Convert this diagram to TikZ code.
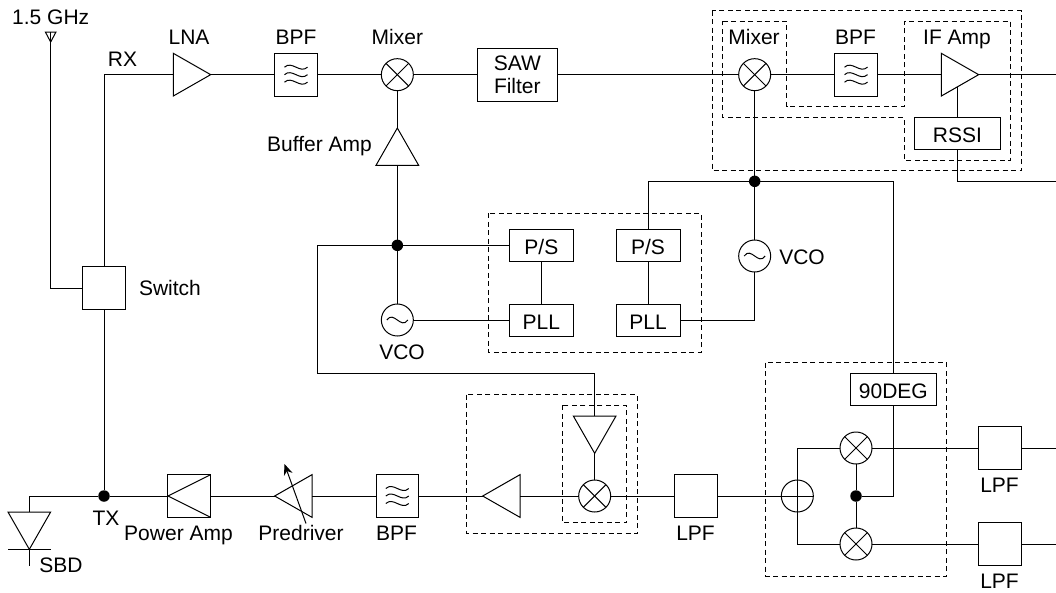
\documentclass[tikz,border=0pt]{standalone}
\usepackage{fontspec}
\setmainfont{Liberation Sans}
\usetikzlibrary{arrows.meta, shapes.geometric}
\tikzset{
  lbl/.style={inner sep=0pt, outer sep=0pt, anchor=base},
  sqbox/.style={draw, rectangle, inner sep=0pt, outer sep=0pt, minimum width=42.67, minimum height=42.67},
  widebox/.style={sqbox, minimum width=64, minimum height=32, text height=18.5, text depth=0pt},
  bpfbox/.style={sqbox, path picture={
      \foreach \dy in {-7.5,0,7.5} {
        \draw[shift={(path picture bounding box.center)}] (-11.5,\dy) .. controls (-4,\dy-7) and (4,\dy+7) .. (11.5,\dy);
      }}},
  mixnode/.style={draw, circle, inner sep=0pt, outer sep=0pt, minimum size=32, path picture={
      \draw (path picture bounding box.north west) -- (path picture bounding box.south east);
      \draw (path picture bounding box.north east) -- (path picture bounding box.south west);}},
  sumnode/.style={draw, circle, inner sep=0pt, outer sep=0pt, minimum size=32, path picture={
      \draw (path picture bounding box.north) -- (path picture bounding box.south);
      \draw (path picture bounding box.west) -- (path picture bounding box.east);}},
  osc/.style={draw, circle, inner sep=0pt, outer sep=0pt, minimum size=32, path picture={
      \draw[shift={(path picture bounding box.center)}] (-10.5,0) .. controls (-3.5,-10) and (3.5,10) .. (10.5,0);}},
  ampnode/.style={draw, isosceles triangle, isosceles triangle stretches, inner sep=0pt, outer sep=0pt, minimum width=42.67, minimum height=37.33, anchor=apex},
  junc/.style={fill=black, circle, inner sep=0pt, outer sep=0pt, minimum size=11.5},
  dashbox/.style={dash pattern=on 5pt off 3.5pt, line width=0.9pt}
}
\begin{document}
\begin{tikzpicture}[x=1pt, y=-1pt, line width=1pt, font=\fontsize{21}{24}\selectfont]
  \useasboundingbox (0,0) rectangle (1056,592);
  % Antena y conmutador
  \node[sqbox] (switch) at (104,288) {};
  \coordinate (ant) at (50.67,32);
  \coordinate (anttip) at (50.67,42);
  \draw (ant) ++(-5.3,0) -- ++(10.6,0) -- (anttip) -- cycle;
  \draw (ant) |- (switch.west);
  \node[lbl] (lblant) at (50.67,24) {1.5 GHz};
  \node[lbl] (lblrx) at (122.5,66) {RX};
  \node[lbl] (lblswitch) at (170,295.7) {Switch};

  % Cadena de recepcion
  \node[ampnode, shape border rotate=0] (lna) at (210.67,74.67) {};
  \node[bpfbox] (bpfa) at (296,74.67) {};
  \node[mixnode] (mixa) at (397.33,74.67) {};
  \node[sqbox, minimum width=80, minimum height=53.33, align=center] (saw) at (517.33,74.67) {SAW\\[-1pt]Filter};
  \node[mixnode] (mixb) at (754.67,74.67) {};
  \node[bpfbox] (bpfb) at (856,74.67) {};
  \node[ampnode, shape border rotate=0] (ifamp) at (978.67,74.67) {};
  \node[widebox, minimum width=85.33] (rssi) at (957.33,133.33) {RSSI};
  \coordinate (ifout) at (1056,74.67);
  \coordinate (rssiout) at (1056,181.33);
  \coordinate (iftap) at (957.33,87);
  \foreach \name/\x/\txt in {lbllna/189/LNA, lblbpfa/296/BPF, lblmixa/397.33/Mixer, lblmixb/754/Mixer, lblbpfb/855.5/BPF, lblifamp/957/IF Amp} {
    \node[lbl] (\name) at (\x,44.5) {\txt};
  }
  \draw (switch.north) |- (lna.lower side);
  \draw (lna.apex) -- (bpfa.west);
  \draw (bpfa.east) -- (mixa.west);
  \draw (mixa.east) -- (saw.west);
  \draw (saw.east) -- (mixb.west);
  \draw (mixb.east) -- (bpfb.west);
  \draw (bpfb.east) -- (ifamp.lower side);
  \draw (ifamp.apex) -- (ifout);
  \draw (rssi.north) -- (iftap);
  \draw (rssi.south) |- (rssiout);

  % Osciladores locales
  \node[ampnode, shape border rotate=90] (bufamp) at (397.33,128) {};
  \node[lbl] (lblbuf) at (319.5,151.7) {Buffer Amp};
  \node[junc] (dota) at (397.33,245.33) {};
  \node[junc] (dotb) at (754.67,181.33) {};
  \node[osc] (vcoa) at (397.33,320) {};
  \node[osc] (vcob) at (754.67,256) {};
  \node[lbl] (lblvcoa) at (402,359.5) {VCO};
  \node[lbl] (lblvcob) at (802,264.5) {VCO};
  \foreach \name/\x/\y/\txt in {psa/541.33/245.33/{P/S}, psb/648/245.33/{P/S}, plla/541.33/320/PLL, pllb/648/320/PLL} {
    \node[widebox] (\name) at (\x,\y) {\txt};
  }
  \coordinate (loopa) at (317.33,245.33);
  \coordinate (loopb) at (317.33,373.33);
  \draw (mixa.south) -- (bufamp.apex);
  \draw (bufamp.lower side) -- (dota);
  \draw (dota) -- (vcoa.north);
  \draw (vcoa.east) -- (plla.west);
  \draw (dota) -- (psa.west);
  \draw (psa.south) -- (plla.north);
  \draw (psb.south) -- (pllb.north);
  \draw (mixb.south) -- (dotb);
  \draw (dotb) -- (vcob.north);
  \draw (vcob.south) |- (pllb.east);
  \draw (psb.north) |- (dotb);

  % Modulador en cuadratura
  \node[widebox, minimum width=85.33] (deg) at (893.33,389.33) {90DEG};
  \node[mixnode] (mixc) at (856,448) {};
  \node[mixnode] (mixd) at (856,544) {};
  \node[junc] (dotc) at (856,496) {};
  \node[sumnode] (sum) at (797.33,496) {};
  \node[sqbox] (lpfa) at (696,496) {};
  \node[sqbox] (lpfb) at (1000,448) {};
  \node[sqbox] (lpfc) at (1000,544) {};
  \coordinate (ilout) at (1056,448);
  \coordinate (qlout) at (1056,544);
  \node[lbl] (lbllpfa) at (695.5,540.7) {LPF};
  \node[lbl] (lbllpfb) at (999.5,492.7) {LPF};
  \node[lbl] (lbllpfc) at (999.5,588.5) {LPF};
  \draw (dotb) -| (deg.north);
  \draw (deg.south) |- (dotc);
  \draw (mixc.south) -- (dotc);
  \draw (dotc) -- (mixd.north);
  \draw (sum.north) |- (mixc.west);
  \draw (sum.south) |- (mixd.west);
  \draw (lpfa.east) -- (sum.west);
  \draw (mixc.east) -- (lpfb.west);
  \draw (mixd.east) -- (lpfc.west);
  \draw (lpfb.east) -- (ilout);
  \draw (lpfc.east) -- (qlout);

  % Cadena de transmision
  \node[mixnode] (mixe) at (594.67,496) {};
  \node[ampnode, shape border rotate=270] (txbuf) at (594.67,453.33) {};
  \node[ampnode, shape border rotate=180] (tria) at (482.67,496) {};
  \node[bpfbox] (bpfc) at (397.33,496) {};
  \node[ampnode, shape border rotate=180] (pre) at (274.67,496) {};
  \node[sqbox] (pa) at (189.33,496) {};
  \node[junc] (dottx) at (104,496) {};
  \node[ampnode, shape border rotate=270] (sbd) at (29.33,549.33) {};
  \coordinate (sbdl) at (8,549.33);
  \coordinate (sbdr) at (50.67,549.33);
  \coordinate (sbdend) at (29.33,565.67);
  \coordinate (prea) at (306,523.5);
  \coordinate (preb) at (284.5,464);
  \draw (pa.west) -- (pa.north east);
  \draw (pa.west) -- (pa.south east);
  \draw[-{Stealth[length=11pt, width=9pt]}] (prea) -- (preb);
  \draw (sbdl) -- (sbdr);
  \draw (sbd.apex) -- (sbdend);
  \node[lbl] (lbltx) at (106,525) {TX};
  \node[lbl] (lblpa) at (178.5,540.7) {Power Amp};
  \node[lbl] (lblpre) at (301,540.7) {Predriver};
  \node[lbl] (lblbpfc) at (396.5,540.7) {BPF};
  \node[lbl] (lblsbd) at (61,572.7) {SBD};
  \draw (switch.south) -- (dottx);
  \draw (dottx) -| (sbd.lower side);
  \draw (dottx) -- (pa.west);
  \draw (pa.east) -- (pre.apex);
  \draw (pre.lower side) -- (bpfc.west);
  \draw (bpfc.east) -- (tria.apex);
  \draw (tria.lower side) -- (mixe.west);
  \draw (mixe.east) -- (lpfa.west);
  \draw (mixe.north) -- (txbuf.apex);
  \draw (dota) -- (loopa) -- (loopb) -| (txbuf.lower side);

  % Grupos punteados
  \draw[dashbox] (712,10.67) rectangle (1021.33,170.67);
  \draw[dashbox] (722.67,21.33) -- (786.67,21.33) -- (786.67,106.67) -- (904,106.67) -- (904,21.33) -- (1010.67,21.33) -- (1010.67,160) -- (904,160) -- (904,117.33) -- (722.67,117.33) -- cycle;
  \draw[dashbox] (488,213.33) rectangle (701.33,352);
  \draw[dashbox] (466.67,394.67) rectangle (637.33,533.33);
  \draw[dashbox] (562.67,405.33) rectangle (626.67,522.67);
  \draw[dashbox] (765.33,362.67) rectangle (946.67,576);
\end{tikzpicture}
\end{document}
